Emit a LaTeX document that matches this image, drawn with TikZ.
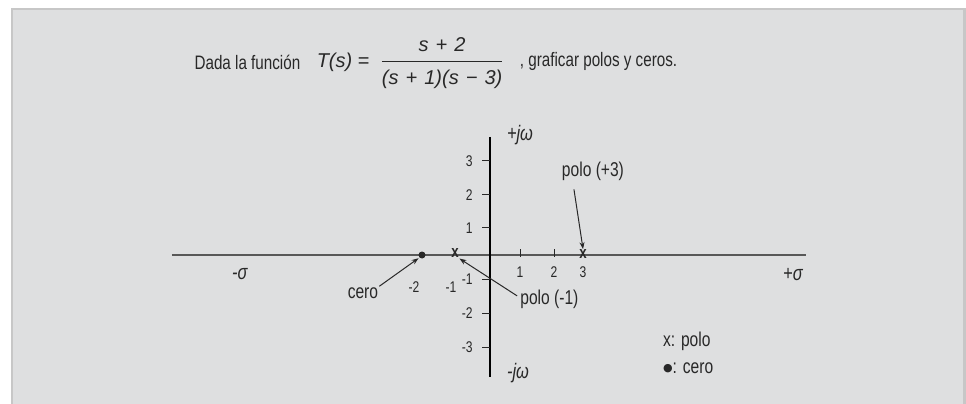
\documentclass[tikz,border=0pt]{standalone}
\usepackage{fontspec}
\setmainfont{Liberation Sans}[FakeStretch=0.78]
\newfontfamily\formfont{Liberation Sans}
\newfontfamily\symfont{DejaVu Sans}
\usetikzlibrary{arrows.meta}
\definecolor{panelgray}{RGB}{222,223,224}
\definecolor{framegray}{RGB}{199,199,199}
\definecolor{axisgray}{RGB}{88,88,88}
\definecolor{ink}{RGB}{40,40,40}
\newcommand{\opsp}[1]{\ \hspace{1.5pt}#1\hspace{1.5pt}\ }
\tikzset{
  lbl/.style={text=ink, font=\fontsize{20}{23}\selectfont, inner sep=1pt},
  titlelbl/.style={text=ink, font=\fontsize{19.5}{22}\selectfont, inner sep=1pt},
  formlbl/.style={text=ink, font=\formfont\fontsize{20}{23}\selectfont, inner sep=1pt},
  ticklbl/.style={text=ink, font=\fontsize{15.5}{17}\selectfont, inner sep=0pt},
  axlbl/.style={text=ink, font=\fontsize{21}{24}\selectfont\itshape, inner sep=1pt},
  pointer/.style={draw=ink, line width=1pt, -{Stealth[length=7pt,width=5pt]}},
  tickline/.style={draw=ink, line width=0.9pt},
  polemark/.style={text=ink, font=\fontsize{17}{17}\selectfont\bfseries, inner sep=0.5pt},
}
\begin{document}
\begin{tikzpicture}[x=33pt,y=33pt]
    \useasboundingbox (-14.848,-4.515) rectangle (14.424,7.727);
    % fondo
    \fill[panelgray] (-14.48,-4.6) rectangle (14.38,7.45);
    \draw[framegray, line width=2.5pt] (-14.48,-4.6) -- (-14.48,7.45) -- (14.38,7.45) -- (14.38,-4.6);
    % enunciado
    \node[titlelbl] (txta) at (-7.35,5.85) {Dada la función};
    \node[formlbl] (tfun) at (-4.45,5.85) {\textit{T(s)} =};
    \node[formlbl] (frac) at (-1.45,5.85) {\renewcommand{\arraystretch}{1.4}\setlength{\arrayrulewidth}{1pt}%
        \begin{tabular}{@{}c@{}}\textit{s\opsp{+}2}\\ \hline \textit{(s\opsp{+}1)(s\opsp{−}3)}\end{tabular}};
    \node[titlelbl] (txtb) at (3.29,5.85) {, graficar polos y ceros.};
    % ejes
    \draw[axisgray, line width=2.5pt] (-9.64,0) -- (9.58,0);
    \draw[black, line width=1.1pt] (0,3.58) -- (0,-3.70);
    % marcas eje jw
    \draw[tickline] (-0.24,2.85) -- (0,2.85);
    \draw[tickline] (-0.24,1.82) -- (0,1.82);
    \draw[tickline] (-0.24,0.82) -- (0,0.82);
    \draw[tickline] (-0.24,-0.73) -- (0,-0.73);
    \draw[tickline] (-0.24,-1.76) -- (0,-1.76);
    \draw[tickline] (-0.24,-2.79) -- (0,-2.79);
    \node[ticklbl, anchor=east] (y3) at (-0.52,2.85) {3};
    \node[ticklbl, anchor=east] (y2) at (-0.52,1.82) {2};
    \node[ticklbl, anchor=east] (y1) at (-0.52,0.82) {1};
    \node[ticklbl, anchor=east] (ym1) at (-0.52,-0.73) {-1};
    \node[ticklbl, anchor=east] (ym2) at (-0.52,-1.76) {-2};
    \node[ticklbl, anchor=east] (ym3) at (-0.52,-2.79) {-3};
    % marcas eje sigma
    \draw[tickline] (0.91,-0.06) -- (0.91,0.18);
    \draw[tickline] (1.94,-0.06) -- (1.94,0.18);
    \node[ticklbl] (x1) at (0.91,-0.52) {1};
    \node[ticklbl] (x2) at (1.94,-0.52) {2};
    \node[ticklbl] (x3) at (2.82,-0.52) {3};
    \node[ticklbl] (xm2) at (-2.30,-0.97) {-2};
    \node[ticklbl] (xm1) at (-1.18,-0.97) {-1};
    % polos y cero
    \node[circle, fill=ink, inner sep=0pt, minimum size=7pt] (zero) at (-2.06,0) {};
    \node[polemark] (pm1) at (-1.06,0.05) {x};
    \node[polemark] (p3) at (2.82,0.02) {x};
    % etiquetas con flecha
    \node[lbl] (lp3) at (3.12,2.55) {polo (+3)};
    \draw[pointer] ([shift={(-19pt,-8pt)}]lp3.south) -- (p3.north);
    \node[lbl] (lcero) at (-3.85,-1.15) {cero};
    \draw[pointer, shorten >=1pt] (lcero.north east) -- (zero.south west);
    \node[lbl] (lpm1) at (1.80,-1.33) {polo (-1)};
    \draw[pointer] ([shift={(-2pt,3pt)}]lpm1.west) -- (pm1.south east);
    % ejes: nombres
    \node[axlbl] (sneg) at (-7.58,-0.58) {-σ};
    \node[axlbl] (spos) at (9.18,-0.58) {+σ};
    \node[axlbl] (jwpos) at (0.91,3.64) {+jω};
    \node[axlbl] (jwneg) at (0.85,-3.58) {-jω};
    % leyenda
    \node[lbl, anchor=west] (leg1) at (5.21,-2.61) {x: polo};
    \node[lbl, anchor=west] (leg2) at (5.21,-3.42) {\raisebox{1.5pt}{\symfont\fontsize{11}{11}\selectfont ●}: cero};
\end{tikzpicture}
\end{document}
